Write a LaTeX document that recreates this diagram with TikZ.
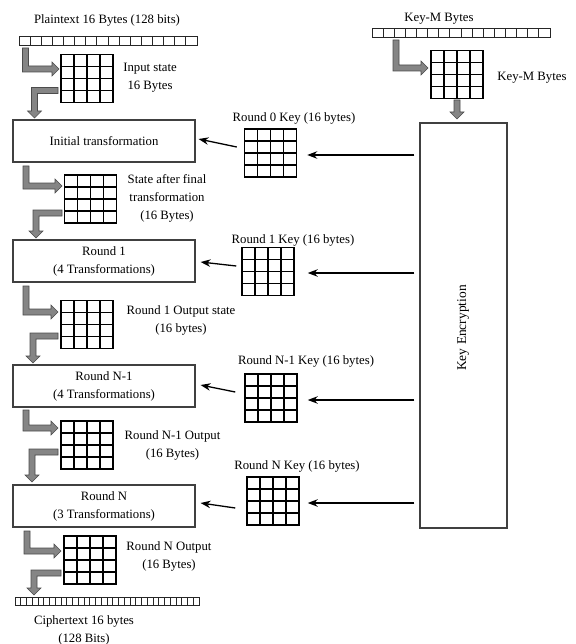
\documentclass[tikz,border=0pt]{standalone}
\usepackage{fontspec}
\setmainfont{Liberation Serif}
\usetikzlibrary{calc,arrows.meta}
\newcommand{\grayLR}[4]{% stem x, top y, corner y, tip x
  \filldraw[garrow] (#1-3,-#2) -- (#1-3,-#3-3) -- (#4-7,-#3-3) -- (#4-7,-#3-7) -- (#4,-#3)
    -- (#4-7,-#3+7) -- (#4-7,-#3+3) -- (#1+3,-#3+3) -- (#1+3,-#2) -- cycle;}
\newcommand{\grayLD}[4]{% start x, band y, stem x, tip y
  \filldraw[garrow] (#1,-#2+3) -- (#3-3,-#2+3) -- (#3-3,-#4+7) -- (#3-7,-#4+7) -- (#3,-#4)
    -- (#3+7,-#4+7) -- (#3+3,-#4+7) -- (#3+3,-#2-3) -- (#1,-#2-3) -- cycle;}
\begin{document}
\begin{tikzpicture}[x=1bp,y=1bp,
  txt/.style={font=\fontsize{12.8}{18}\selectfont, text=black, inner sep=0, align=center},
  box/.style={draw=black!75, line width=1.1pt, minimum width=182bp, minimum height=42bp,
    inner sep=0, align=center, font=\fontsize{12.8}{18}\selectfont, text=black},
  grid4/.style={draw=black, line width=1.5pt, minimum width=52bp, minimum height=48bp, inner sep=0,
    path picture={
      \foreach \i in {1,2,3}{
        \draw[line width=1.5pt,black] ($(path picture bounding box.south west)!\i/4!(path picture bounding box.south east)$)
          -- ($(path picture bounding box.north west)!\i/4!(path picture bounding box.north east)$);
        \draw[line width=1.5pt,black] ($(path picture bounding box.south west)!\i/4!(path picture bounding box.north west)$)
          -- ($(path picture bounding box.south east)!\i/4!(path picture bounding box.north east)$);
      }}},
  cells/.style={draw=black!85, line width=1pt, inner sep=0,
    path picture={
      \pgfmathtruncatemacro\nn{#1}
      \pgfmathtruncatemacro\nm{#1-1}
      \foreach \i in {1,...,\nm}{
        \draw[line width=1pt,black!85] ($(path picture bounding box.south west)!\i/\nn!(path picture bounding box.south east)$)
          -- ($(path picture bounding box.north west)!\i/\nn!(path picture bounding box.north east)$);
      }}},
  arr/.style={-{Stealth[length=10pt,width=7.5pt]}, line width=1.3pt, draw=black},
  garrow/.style={fill=black!48, draw=black!70, line width=0.6pt}
]
\useasboundingbox (0,0) rectangle (576,-644);

% ---- plaintext side ----
\node[txt] (ptl) at (107,-20) {Plaintext 16 Bytes (128 bits)};
\node[cells=16, minimum width=178bp, minimum height=9bp] (pts) at (108,-41.5) {};
\node[grid4] (g0) at (87,-78.5) {};
\node[txt] (g0l) at (150,-78) {Input state\\16 Bytes};
\node[box] (init) at (104,-141) {Initial transformation};

\node[grid4] (g1) at (90.5,-199) {};
\node[txt] (g1l) at (167,-198.5) {State after final\\transformation\\(16 Bytes)};
\node[box] (r1) at (104,-261) {Round 1\\(4 Transformations)};

\node[grid4] (g2) at (87,-324.5) {};
\node[txt] (g2l) at (181,-320) {Round 1 Output state\\(16 bytes)};
\node[box] (rn1) at (104,-386) {Round N-1\\(4 Transformations)};

\node[grid4] (g3) at (87,-445) {};
\node[txt] (g3l) at (172.5,-445.5) {Round N-1 Output\\(16 Bytes)};
\node[box] (rn) at (104,-506) {Round N\\(3 Transformations)};

\node[grid4] (g4) at (90,-560) {};
\node[txt] (g4l) at (169,-556.5) {Round N Output\\(16 Bytes)};
\node[cells=32, minimum width=184bp, minimum height=8bp] (cts) at (107,-601) {};
\node[txt] (ctl) at (84,-630) {Ciphertext 16 bytes\\(128 Bits)};

% ---- key side ----
\node[txt] (kml) at (439,-19) {Key-M Bytes};
\node[cells=16, minimum width=178bp, minimum height=9bp] (kms) at (461,-33.5) {};
\node[grid4] (km) at (457,-74.5) {};
\node[txt] (kml2) at (532,-78) {Key-M Bytes};
\node[draw=black!75, line width=1.1pt, minimum width=87bp, minimum height=405bp, inner sep=0] (ke) at (463.5,-325.5) {};
\node[txt, rotate=90, font=\fontsize{13.5}{18}\selectfont] (kel) at (463,-328) {Key Encryption};

\node[txt] (k0l) at (294,-118) {Round 0 Key (16 bytes)};
\node[grid4] (k0) at (270.5,-153) {};
\node[txt] (k1l) at (293,-240) {Round 1 Key (16 bytes)};
\node[grid4] (k1) at (268,-271.5) {};
\node[txt] (k2l) at (306,-361) {Round N-1 Key (16 bytes)};
\node[grid4] (k2) at (271,-398) {};
\node[txt] (k3l) at (297,-466) {Round N Key (16 bytes)};
\node[grid4] (k3) at (273,-501) {};

% ---- gray block arrows ----
\grayLR{25.5}{48}{69}{59}
\grayLD{58}{90.5}{34.5}{118}
\grayLR{26}{166}{186}{62}
\grayLD{62}{213}{36}{238}
\grayLR{26}{286}{312}{58}
\grayLD{58}{336}{33}{363}
\grayLR{26}{410}{428}{58}
\grayLD{58}{452}{32}{482}
\grayLR{27}{531}{551}{61}
\grayLD{61}{573}{34}{595}
\grayLR{396}{40}{68}{428}
\filldraw[garrow] (457-3,-100) -- (457-3,-112) -- (457-7,-112) -- (457,-119) -- (457+7,-112) -- (457+3,-112) -- (457+3,-100) -- cycle;

% ---- key arrows ----
\draw[arr] ($(k0.west)+(-7,6)$) -- ($(init.east)+(3,2)$);
\draw[arr] ($(k1.west)+(-5,5.5)$) -- ($(r1.east)+(5,-1)$);
\draw[arr] ($(k2.west)+(-9,6)$) -- ($(rn1.east)+(5,1)$);
\draw[arr] ($(k3.west)+(-11,-7)$) -- ($(rn.east)+(5,3)$);

\coordinate (e0) at ($(ke.west |- k0.center)+(-5,-2)$);
\coordinate (e1) at ($(ke.west |- k1.center)+(-5,-1.5)$);
\coordinate (e2) at ($(ke.west |- k2.center)+(-5,-2)$);
\coordinate (e3) at ($(ke.west |- k3.center)+(-5,-2)$);
\draw[arr] (e0) -- (e0 -| {$(k0.east)+(10,0)$});
\draw[arr] (e1) -- (e1 -| {$(k1.east)+(13,0)$});
\draw[arr] (e2) -- (e2 -| {$(k2.east)+(10,0)$});
\draw[arr] (e3) -- (e3 -| {$(k3.east)+(8,0)$});
\end{tikzpicture}
\end{document}
